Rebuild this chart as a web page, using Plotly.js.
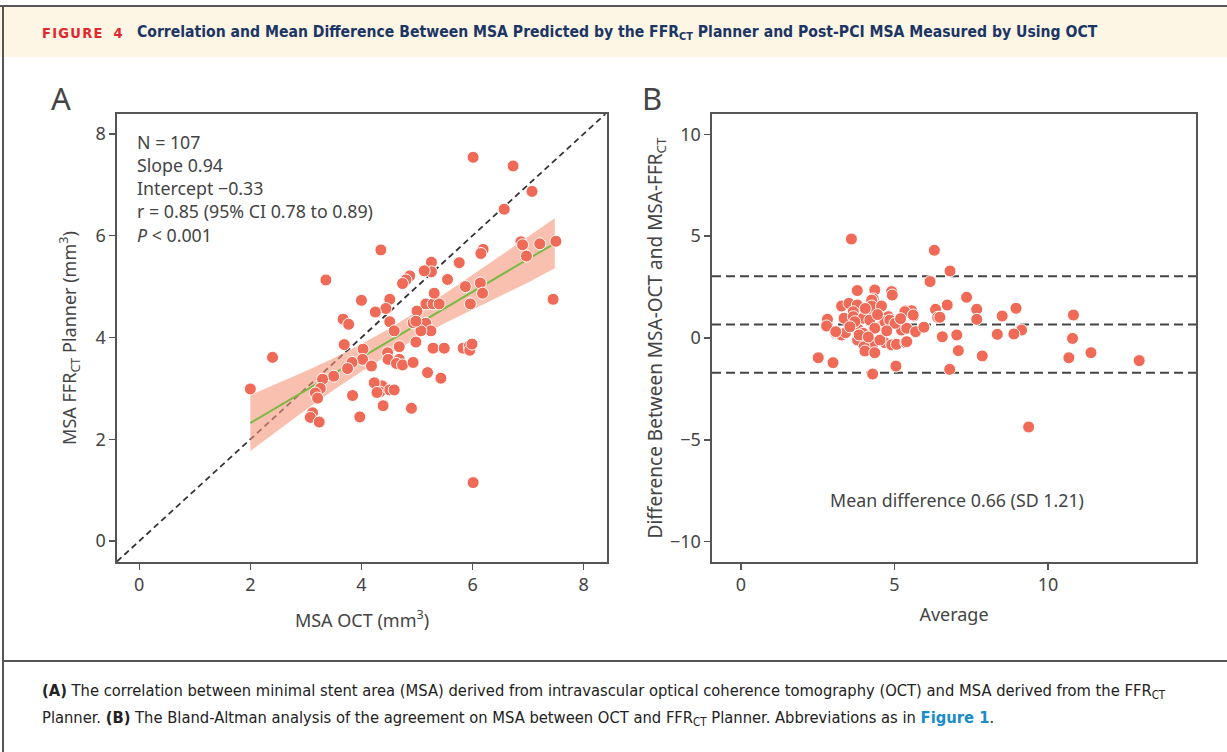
<!DOCTYPE html>
<html>
<head>
<meta charset="utf-8">
<script src="https://cdn.plot.ly/plotly-3.0.1.min.js"></script>
<style>
  html, body { margin: 0; padding: 0; background: #ffffff; }
  #chart { width: 1227px; height: 752px; }
</style>
</head>
<body>
<div id="chart"></div>
<script>
// ---------- Panel A data: MSA OCT (x) vs MSA FFRct Planner (y) ----------
const octA = [2.00, 2.40, 3.36, 4.35, 6.01, 6.73, 7.07, 6.57, 6.87, 6.90, 7.21, 7.50, 6.97, 7.45, 6.19, 6.15, 5.76, 5.55, 5.26, 5.26,
              5.13, 4.87, 4.80, 4.74, 4.51, 4.44, 4.51, 4.59, 4.93, 5.00, 5.16, 5.29, 5.40, 5.31, 5.16, 5.25, 5.07, 5.87, 6.14, 6.18,
              5.96, 4.98, 4.68, 5.29, 5.49, 5.83, 5.94, 5.95, 5.99, 4.47, 4.48, 4.68, 4.63, 4.74, 4.93, 5.19, 5.43, 4.37, 4.33, 4.51,
              4.59, 4.39, 4.90, 6.01, 4.00, 3.67, 3.77, 4.25, 3.69, 4.03, 4.02, 4.18, 3.83, 3.75, 3.50, 3.30, 3.26, 3.17, 3.21, 4.23,
              4.28, 3.84, 3.12, 3.08, 3.24, 3.97, 4.98];
const ffrA = [2.99, 3.61, 5.13, 5.72, 7.54, 7.37, 6.87, 6.52, 5.88, 5.82, 5.84, 5.89, 5.60, 4.75, 5.73, 5.65, 5.47, 5.14, 5.48, 5.29,
              5.31, 5.21, 5.13, 5.06, 4.75, 4.57, 4.31, 4.13, 4.29, 4.52, 4.66, 4.66, 4.66, 4.87, 4.28, 4.13, 4.13, 5.00, 5.07, 4.87,
              4.66, 3.91, 3.82, 3.79, 3.79, 3.79, 3.83, 3.75, 3.87, 3.70, 3.57, 3.57, 3.49, 3.46, 3.51, 3.31, 3.20, 3.05, 2.93, 2.97,
              2.97, 2.66, 2.61, 1.15, 4.73, 4.36, 4.26, 4.50, 3.86, 3.77, 3.57, 3.44, 3.51, 3.39, 3.24, 3.18, 3.00, 2.91, 2.81, 3.11,
              2.92, 2.86, 2.52, 2.43, 2.34, 2.44, 4.32];

// regression line and its 95% confidence band (as drawn)
const fitX = [2.00, 7.48];
const fitY = [2.32, 5.85];
const bandX     = [2.00, 2.50, 3.00, 3.50, 4.00, 4.50, 5.00, 5.50, 6.00, 6.50, 7.00, 7.48];
const bandUpper = [2.87, 3.10, 3.34, 3.59, 3.87, 4.17, 4.51, 4.86, 5.23, 5.61, 5.98, 6.34];
const bandLower = [1.77, 2.18, 2.58, 2.97, 3.33, 3.67, 3.99, 4.28, 4.55, 4.81, 5.08, 5.36];

// statistics text of panel A
const statsA = ['N = 107', 'Slope 0.94', 'Intercept \u22120.33', 'r = 0.85 (95% CI 0.78 to 0.89)', '<i>P</i> < 0.001'];

// ---------- Panel B data: Bland-Altman ----------
const avgB  = [3.60, 6.30, 6.81, 6.16, 3.79, 4.36, 4.91, 4.93, 4.31, 4.26, 3.28, 3.52, 3.79, 3.66, 4.15, 4.26, 4.58, 5.36, 5.56, 5.63,
               6.34, 6.72, 6.41, 2.82, 2.79, 3.36, 3.66, 3.98, 4.61, 4.80, 5.07, 4.61, 4.20, 4.36, 3.82, 3.98, 3.08, 3.28, 3.41, 5.23,
               5.40, 5.69, 5.96, 6.56, 7.03, 3.80, 4.58, 4.31, 4.69, 4.91, 5.07, 5.37, 4.01, 4.04, 4.36, 7.08, 2.52, 3.00, 5.05, 6.80,
               4.29, 3.09, 3.71, 3.85, 4.53, 4.69, 4.85, 5.02, 5.34, 5.61, 5.40, 7.35, 6.48, 7.68, 7.68, 8.51, 8.96, 10.83, 9.14, 8.89,
               8.35, 10.80, 7.86, 10.68, 11.40, 12.97, 9.37, 4.45, 4.05, 4.75, 3.55, 4.15, 5.20];
const diffB = [4.86, 4.31, 3.29, 2.77, 2.33, 2.36, 2.28, 2.11, 1.92, 1.86, 1.57, 1.70, 1.62, 1.29, 1.34, 1.57, 1.57, 1.34, 1.34, 1.08,
               1.41, 1.62, 1.02, 0.92, 0.59, 0.97, 1.05, 0.97, 0.97, 1.05, 0.75, 0.64, 0.88, 0.48, 0.43, 0.23, 0.26, 0.15, 0.26, 0.39,
               0.48, 0.31, 0.53, 0.06, 0.15, -0.10, -0.05, -0.26, -0.23, -0.34, -0.31, -0.23, -0.43, -0.64, -0.72, -0.62, -0.97, -1.21, -1.38, -1.54,
               -1.77, 0.31, 0.80, 0.15, -0.10, 0.80, 0.88, 0.72, 1.29, 1.13, -0.18, 2.00, 1.02, 1.41, 0.92, 1.08, 1.46, 1.13, 0.39, 0.20,
               0.18, -0.02, -0.88, -0.97, -0.72, -1.11, -4.37, 1.15, 1.45, 0.35, 0.55, 0.05, 0.95];

const meanDiff = 0.66;
const sdDiff = 1.21;
const loaUpper = meanDiff + 1.96 * sdDiff;
const loaLower = meanDiff - 1.96 * sdDiff;

// tick labels
const ticksA = [0, 2, 4, 6, 8];
const ticksBx = [0, 5, 10];
const ticksBy = [-10, -5, 0, 5, 10];
const ticksByText = ['\u221210', '\u22125', '0', '5', '10'];

// ---------- styling ----------
const W = 1227, H = 752;
const px = v => v / W;
const py = v => 1 - v / H;
const dotColor = 'rgb(240,106,88)';
const axisColor = '#555555';
const textColor = '#444444';
const plotFont = 'Noto Sans, Open Sans, sans-serif';
const capFont = 'Liberation Sans Narrow, DejaVu Sans Condensed, Liberation Sans, sans-serif';

const traces = [
  { x: bandX, y: bandLower, xaxis: 'x', yaxis: 'y', mode: 'lines', line: { width: 0, color: 'rgba(0,0,0,0)' },
    hoverinfo: 'skip', showlegend: false },
  { x: bandX, y: bandUpper, xaxis: 'x', yaxis: 'y', mode: 'lines', line: { width: 0, color: 'rgba(0,0,0,0)' },
    fill: 'tonexty', fillcolor: 'rgba(247,150,122,0.6)', hoverinfo: 'skip', showlegend: false },
  { x: fitX, y: fitY, xaxis: 'x', yaxis: 'y', mode: 'lines', line: { color: '#7cb844', width: 2 }, showlegend: false },
  { x: octA, y: ffrA, xaxis: 'x', yaxis: 'y', mode: 'markers', type: 'scatter',
    marker: { color: dotColor, size: 12, line: { color: '#ffffff', width: 1 } }, showlegend: false },
  { x: avgB, y: diffB, xaxis: 'x2', yaxis: 'y2', mode: 'markers', type: 'scatter',
    marker: { color: dotColor, size: 12, line: { color: '#ffffff', width: 1 } }, showlegend: false }
];

const axisCommon = {
  showline: true, linecolor: axisColor, linewidth: 1.6, mirror: true,
  ticks: 'outside', ticklen: 6, tickwidth: 1.4, tickcolor: axisColor,
  showgrid: false, zeroline: false,
  tickfont: { family: plotFont, size: 18, color: textColor }
};

const layout = {
  width: W, height: H,
  margin: { l: 0, r: 0, t: 0, b: 0 },
  paper_bgcolor: '#ffffff', plot_bgcolor: '#ffffff',
  showlegend: false,
  xaxis: Object.assign({}, axisCommon, {
    domain: [px(117), px(607)], range: [-0.4, 8.42], tickvals: ticksA, anchor: 'y',
    title: { text: 'MSA OCT (mm<sup>3</sup>)', standoff: 19, font: { family: plotFont, size: 18, color: textColor } }
  }),
  yaxis: Object.assign({}, axisCommon, {
    domain: [py(562), py(114)], range: [-0.41, 8.39], tickvals: ticksA, anchor: 'x',
    title: { text: 'MSA FFR<sub>CT</sub> Planner (mm<sup>3</sup>)', standoff: 14, font: { family: plotFont, size: 18, color: textColor } }
  }),
  xaxis2: Object.assign({}, axisCommon, {
    domain: [px(712), px(1196)], range: [-0.94, 14.82], tickvals: ticksBx, anchor: 'y2',
    title: { text: 'Average', standoff: 13, font: { family: plotFont, size: 18, color: textColor } }
  }),
  yaxis2: Object.assign({}, axisCommon, {
    domain: [py(562), py(114)], range: [-11, 11], tickvals: ticksBy, ticktext: ticksByText, anchor: 'x2',
    title: { text: 'Difference Between MSA-OCT and MSA-FFR<sub>CT</sub>', standoff: 2, font: { family: plotFont, size: 19, color: textColor } }
  }),
  shapes: [
    // header band
    { type: 'rect', xref: 'paper', yref: 'paper', x0: 0, x1: 1, y0: py(57), y1: py(7), fillcolor: '#fdf6e4', line: { width: 0 }, layer: 'below' },
    { type: 'line', xref: 'paper', yref: 'paper', x0: 0, x1: 1, y0: py(6), y1: py(6), line: { color: '#555555', width: 2 } },
    { type: 'line', xref: 'paper', yref: 'paper', x0: px(3), x1: px(3), y0: py(6), y1: 0, line: { color: '#555555', width: 2 } },
    { type: 'line', xref: 'paper', yref: 'paper', x0: px(3), x1: 1, y0: py(661), y1: py(661), line: { color: '#555555', width: 2 } },
    // identity line in A
    { type: 'line', xref: 'x', yref: 'y', x0: -0.4, y0: -0.4, x1: 8.39, y1: 8.39,
      line: { color: '#333333', width: 1.8, dash: '6px,4px' }, layer: 'below' },
    // Bland-Altman lines in B
    { type: 'line', xref: 'x2 domain', yref: 'y2', x0: 0, x1: 1, y0: loaUpper, y1: loaUpper,
      line: { color: '#444444', width: 2, dash: '9px,5px' }, layer: 'below' },
    { type: 'line', xref: 'x2 domain', yref: 'y2', x0: 0, x1: 1, y0: meanDiff, y1: meanDiff,
      line: { color: '#444444', width: 2, dash: '9px,5px' }, layer: 'below' },
    { type: 'line', xref: 'x2 domain', yref: 'y2', x0: 0, x1: 1, y0: loaLower, y1: loaLower,
      line: { color: '#444444', width: 2, dash: '9px,5px' }, layer: 'below' }
  ],
  annotations: [
    { xref: 'paper', yref: 'paper', x: px(40), y: py(33), xanchor: 'left', yanchor: 'middle', showarrow: false,
      text: '<b>F\u200aI\u200aG\u200aU\u200aR\u200aE\u2002 4</b>', font: { family: capFont, size: 14.5, color: '#e2262c' } },
    { xref: 'paper', yref: 'paper', x: px(135), y: py(33), xanchor: 'left', yanchor: 'middle', showarrow: false,
      text: '<b>Correlation and Mean Difference Between MSA Predicted by the FFR<sub>CT</sub> Planner and Post-PCI MSA Measured by Using OCT</b>',
      font: { family: capFont, size: 15.6, color: '#1b3565' } },
    { xref: 'paper', yref: 'paper', x: px(49), y: py(98), xanchor: 'left', yanchor: 'middle', showarrow: false,
      text: 'A', font: { family: plotFont, size: 31, color: textColor } },
    { xref: 'paper', yref: 'paper', x: px(640), y: py(98), xanchor: 'left', yanchor: 'middle', showarrow: false,
      text: 'B', font: { family: plotFont, size: 31, color: textColor } },
    { xref: 'paper', yref: 'paper', x: px(135), y: py(188), xanchor: 'left', yanchor: 'middle', align: 'left', showarrow: false,
      text: statsA.join('<br>'), font: { family: plotFont, size: 17.8, color: textColor } },
    { xref: 'paper', yref: 'paper', x: px(957), y: py(500), xanchor: 'center', yanchor: 'middle', showarrow: false,
      text: 'Mean difference 0.66 (SD 1.21)', font: { family: plotFont, size: 17.8, color: textColor } },
    { xref: 'paper', yref: 'paper', x: px(40), y: py(691), xanchor: 'left', yanchor: 'middle', showarrow: false,
      text: '<b>(A)</b> The correlation between minimal stent area (MSA) derived from intravascular optical coherence tomography (OCT) and MSA derived from the FFR<sub>CT</sub>',
      font: { family: capFont, size: 16.4, color: '#222222' } },
    { xref: 'paper', yref: 'paper', x: px(40), y: py(718), xanchor: 'left', yanchor: 'middle', showarrow: false,
      text: 'Planner. <b>(B)</b> The Bland-Altman analysis of the agreement on MSA between OCT and FFR<sub>CT</sub> Planner. Abbreviations as in <b><span style="color:#1a8cc8">Figure 1</span></b>.',
      font: { family: capFont, size: 16.4, color: '#222222' } }
  ]
};

Plotly.newPlot('chart', traces, layout, { displayModeBar: false, staticPlot: true });
</script>
</body>
</html>
